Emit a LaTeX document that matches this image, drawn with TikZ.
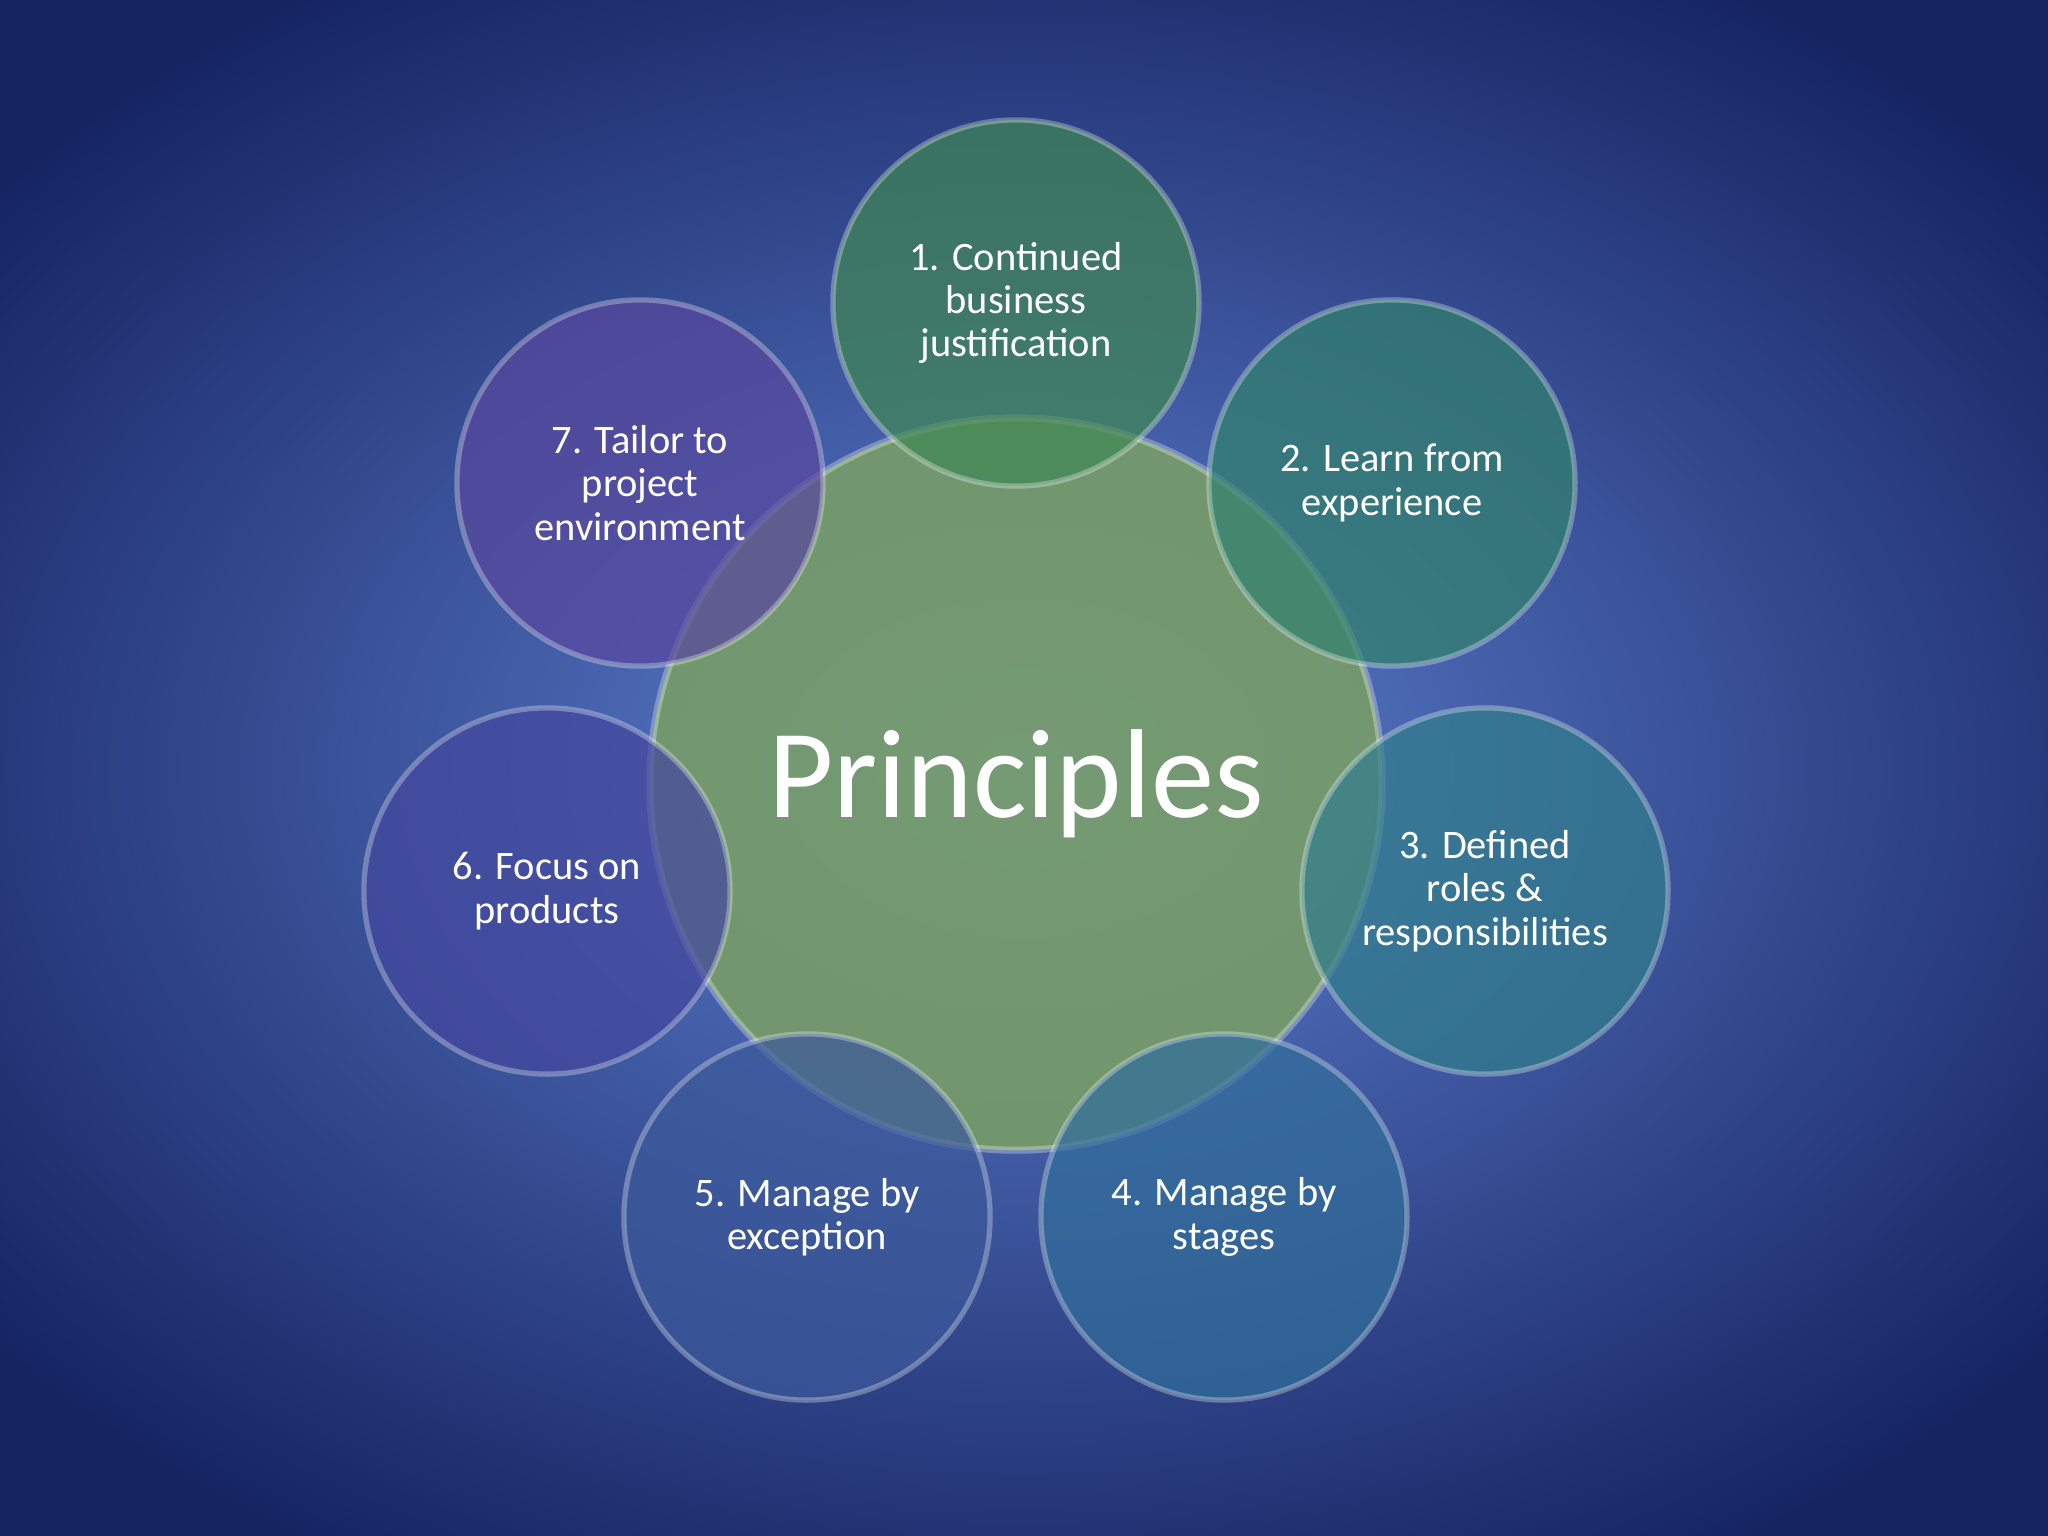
\documentclass[tikz,border=0pt]{standalone}
\usepackage{fontspec}
\setmainfont{Carlito}
\begin{document}
\begin{tikzpicture}[x=0.01cm,y=-0.01cm,
  bub/.style={circle, inner sep=0pt, draw=white, draw opacity=0.3, line width=1.5pt, fill opacity=0.72, text opacity=1, text=white, align=center, font=\fontsize{11.5}{12.3}\selectfont},
]
\useasboundingbox (0,0) rectangle (2048,1536);
\shade[inner color={rgb,255:red,95;green,130;blue,210}, outer color={rgb,255:red,22;green,36;blue,98}] (-300,-150) rectangle (2348,1686);
\clip (0,0) rectangle (2048,1536);
\node[circle, minimum size=7.32cm, inner sep=0pt, fill={rgb,255:red,122;green,160;blue,100}, fill opacity=0.85, draw=white, draw opacity=0.3, line width=2pt, text opacity=1, text=white, font=\fontsize{36}{40}\selectfont] (c) at (1016,784) {Principles};
\tikzset{bub/.append style={minimum size=3.66cm}}
\node[bub, fill={rgb,255:red,65;green,135;blue,85}] (p1) at (1016,303) {1. Continued\\business\\justification};
\node[bub, fill={rgb,255:red,50;green,130;blue,110}] (p2) at (1392,483) {2. Learn from\\experience};
\node[bub, fill={rgb,255:red,50;green,125;blue,140}] (p3) at (1485,891) {3. Defined\\roles \&\\responsibilities};
\node[bub, fill={rgb,255:red,50;green,110;blue,155}] (p4) at (1224,1217) {4. Manage by\\stages};
\node[bub, fill={rgb,255:red,60;green,90;blue,155}] (p5) at (807,1217) {5. Manage by\\exception};
\node[bub, fill={rgb,255:red,68;green,72;blue,158}] (p6) at (547,891) {6. Focus on\\products};
\node[bub, fill={rgb,255:red,88;green,72;blue,158}] (p7) at (640,483) {7. Tailor to\\project\\environment};
\end{tikzpicture}
\end{document}
